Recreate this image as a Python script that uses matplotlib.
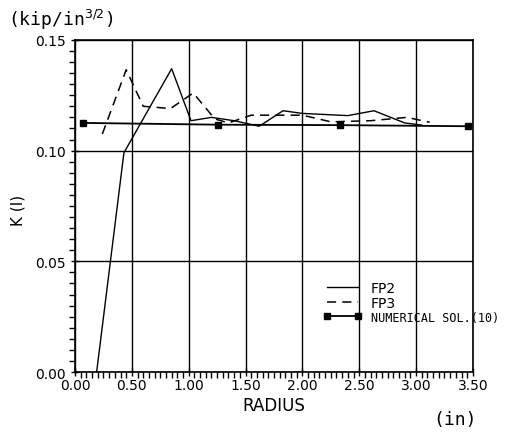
# K(I) vs radius, FP2 / FP3 against the numerical solution
import matplotlib.pyplot as plt
from matplotlib.ticker import MultipleLocator, FormatStrFormatter

# ── data
fp2_r = [0.19, 0.43, 0.85, 1.02, 1.20, 1.40, 1.62, 1.83, 2.00, 2.40, 2.63, 2.90, 3.05]
fp2_k = [0.000, 0.099, 0.137, 0.1135, 0.1150, 0.1135, 0.1110, 0.1180, 0.1168, 0.1158, 0.1180, 0.1125, 0.1115]

fp3_r = [0.24, 0.45, 0.60, 0.84, 1.04, 1.23, 1.35, 1.55, 1.80, 2.00, 2.25, 2.60, 2.92, 3.12]
fp3_k = [0.1075, 0.1365, 0.1200, 0.1190, 0.1260, 0.1143, 0.1125, 0.1160, 0.1160, 0.1160, 0.1130, 0.1135, 0.1150, 0.1128]

num_r = [0.07, 1.26, 2.33, 3.46]
num_k = [0.1125, 0.1117, 0.1115, 0.1110]

x_ticks = [0.0, 0.5, 1.0, 1.5, 2.0, 2.5, 3.0, 3.5]
y_ticks = [0.00, 0.05, 0.10, 0.15]

fig = plt.figure(figsize=(5.14, 4.35), dpi=100)
ax = fig.add_axes([0.146, 0.1425, 0.774, 0.7635])

ax.plot(fp2_r, fp2_k, color="black", linewidth=1.0, label="FP2")
ax.plot(fp3_r, fp3_k, color="black", linewidth=1.1, linestyle=(0, (6, 4)), label="FP3")
ax.plot(num_r, num_k, color="black", linewidth=1.3, marker="s", markersize=4.5,
        label="NUMERICAL SOL.(10)")

ax.set_xlim(0, 3.5)
ax.set_ylim(0, 0.15)
ax.set_xticks(x_ticks)
ax.set_yticks(y_ticks)
ax.xaxis.set_minor_locator(MultipleLocator(0.05))
ax.yaxis.set_minor_locator(MultipleLocator(0.005))
ax.xaxis.set_major_formatter(FormatStrFormatter("%.2f"))
ax.yaxis.set_major_formatter(FormatStrFormatter("%.2f"))
ax.tick_params(which="major", direction="inout", length=6, width=1, labelsize=10)
ax.tick_params(which="minor", direction="out", length=4, width=1)
ax.tick_params(axis="x", pad=1)
ax.grid(True, which="major", color="black", linewidth=1.0)
for s in ax.spines.values():
    s.set_linewidth(1.2)

ax.set_xlabel("RADIUS", fontsize=12, labelpad=3)
ax.set_ylabel("K (I)", fontsize=11)
ax.yaxis.set_label_coords(-0.125, 0.49)

fig.text(0.015, 0.955, "(kip/in$^{3/2}$)", fontsize=13, family="DejaVu Sans Mono",
         ha="left", va="center")
fig.text(0.885, 0.035, "(in)", fontsize=13, family="DejaVu Sans Mono",
         ha="center", va="center")

# legend sits over the grid, text runs past the right spine like the original
leg = ax.legend(loc="upper left", bbox_to_anchor=(0.61, 0.29), frameon=False,
                numpoints=2, handlelength=2.8, handletextpad=0.6,
                labelspacing=0.05, borderaxespad=0)
texts = leg.get_texts()
texts[0].set_fontsize(10)
texts[1].set_fontsize(10)
texts[2].set_fontsize(8.5)
texts[2].set_family("DejaVu Sans Mono")

fig.savefig("out.png", dpi=100)
